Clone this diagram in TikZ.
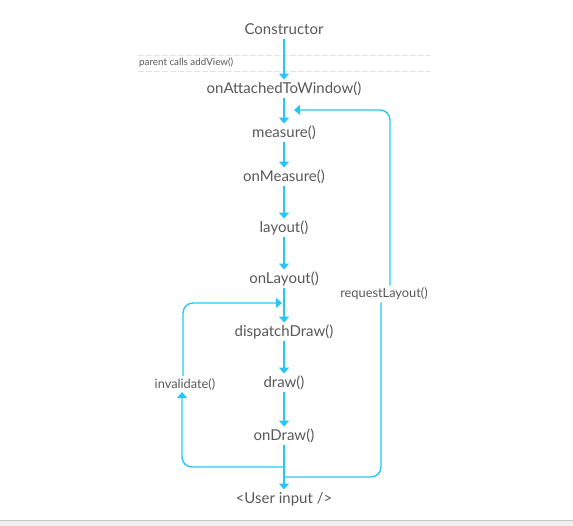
\documentclass[tikz,border=0pt]{standalone}
\usepackage{fontspec}
\setmainfont{Lato}
\usetikzlibrary{arrows.meta}

\definecolor{flowblue}{RGB}{38,198,248}
\definecolor{txtgray}{RGB}{88,88,88}
\tikzset{
  call/.style={font=\fontsize{15}{18}\selectfont, text=txtgray, inner sep=2pt, text height=11.5pt, text depth=3pt},
  side/.style={font=\fontsize{12.8}{14}\selectfont, text=txtgray, inner sep=2pt},
  flow/.style={draw=flowblue, line width=1.4pt, -{Triangle[width=10pt,length=6pt]}},
  sep/.style={draw=gray!22, line width=0.8pt, dash pattern=on 6pt off 2pt}
}

\begin{document}
\begin{tikzpicture}[x=1pt,y=1pt]
    \useasboundingbox (0,0) rectangle (573,526);
    \fill[gray!12] (0,0) rectangle (573,5);
    \draw[gray!45, line width=1pt] (0,5)--(573,5);
    %
    \draw[sep] (138,471)--(430,471);
    \draw[sep] (138,455)--(430,455);
    \node (PA) at (139,463) [anchor=west, font=\fontsize{9.8}{11}\selectfont, text=txtgray, inner sep=0pt] {parent calls addView()};
    %
    \node (Ct) at (284,496) [call] {Constructor};
    \node (At) at (284,437) [call] {onAttachedToWindow()};
    \node (Me) at (284,393) [call] {measure()};
    \node (OM) at (284,349) [call] {onMeasure()};
    \node (La) at (284,298) [call] {layout()};
    \node (OL) at (284,247) [call] {onLayout()};
    \node (DD) at (284,194) [call] {dispatchDraw()};
    \node (Dr) at (284,143) [call] {draw()};
    \node (OD) at (284,90) [call] {onDraw()};
    \node (UI) at (284,27) [call] {<User input />};
    \node (Inv) at (185,142) [side] {invalidate()};
    \node (Req) at (384,232) [side] {requestLayout()};
    %
    \draw[flow] (Ct)--(At);
    \draw[flow] (At)--(Me);
    \draw[flow] (Me)--(OM);
    \draw[flow] (OM)--(La);
    \draw[flow] (La)--(OL);
    \draw[flow] (OL)--(DD);
    \draw[flow] (DD)--(Dr);
    \draw[flow] (Dr)--(OD);
    \draw[flow] (OD)--(UI);
    %
    \coordinate (L0) at (284,59);
    \coordinate (L1) at (282,223);
    \coordinate (R0) at (284,49);
    \coordinate (R1) at (294,416);
    \draw[flow, rounded corners=10pt] (L0) -| ([xshift=-3pt]Inv.south);
    \draw[flow, rounded corners=10pt] ([xshift=-2pt]Inv.north) |- (L1);
    \draw[draw=flowblue, line width=1.4pt, rounded corners=10pt] (R0) -| ([xshift=-3pt]Req.south);
    \draw[flow, rounded corners=10pt] ([xshift=6pt]Req.north) |- (R1);
\end{tikzpicture}
\end{document}
